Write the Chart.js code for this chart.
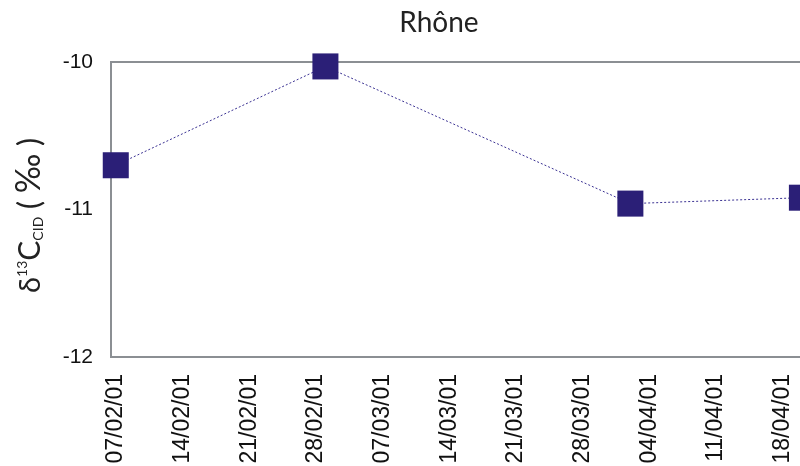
<!DOCTYPE html>
<html>
<head>
<meta charset="utf-8">
<script src="https://cdn.jsdelivr.net/npm/chart.js@4.4.1/dist/chart.umd.min.js"></script>
<style>
  body { margin: 0; background: #fff; }
</style>
</head>
<body>
<canvas id="rhone" width="800" height="466"></canvas>
<script>
// données
const sampleDates = ['07/02/01', '01/03/01', '02/04/01', '20/04/01'];
const d13C = [-10.70, -10.03, -10.96, -10.92];
const tickLabels = ['07/02/01', '14/02/01', '21/02/01', '28/02/01', '07/03/01', '14/03/01',
                    '21/03/01', '28/03/01', '04/04/01', '11/04/01', '18/04/01'];
const yTicks = [-12, -11, -10];

// jours depuis le 07/02/01
function dayOf(s) {
  const p = s.split('/');
  const t = Date.UTC(2000 + +p[2], +p[1] - 1, +p[0]);
  return Math.round((t - Date.UTC(2001, 1, 7)) / 86400000);
}
const tickDays = tickLabels.map(dayOf);
const points = sampleDates.map((d, i) => ({ x: dayOf(d), y: d13C[i] }));

const frame = {
  id: 'frame',
  beforeDatasetsDraw(chart) {
    const a = chart.chartArea, ctx = chart.ctx;
    ctx.save();
    ctx.strokeStyle = '#8b8f93';
    ctx.lineWidth = 2;
    ctx.strokeRect(a.left, a.top, a.right - a.left + 4, a.bottom - a.top);
    ctx.restore();
  }
};

const labels = {
  id: 'labels',
  afterDraw(chart) {
    const ctx = chart.ctx, a = chart.chartArea;
    ctx.save();
    ctx.fillStyle = '#222';
    ctx.font = '28px Lato';
    ctx.textAlign = 'center';
    ctx.textBaseline = 'alphabetic';
    ctx.fillText('Rhône', 439, 32);

    // titre de l'axe y : δ13C CID (‰)
    const parts = [
      { t: 'δ', size: 29, dy: 0 },
      { t: '13', size: 14, dy: -13 },
      { t: 'C', size: 30, dy: 0 },
      { t: 'CID', size: 14, dy: 3 },
      { t: ' ( ', size: 30, dy: 0 },
      { t: '‰', size: 34, dy: 0 },
      { t: ' )', size: 30, dy: 0 }
    ];
    let total = 0;
    parts.forEach(p => { ctx.font = p.size + 'px Lato'; p.w = ctx.measureText(p.t).width; total += p.w; });
    ctx.translate(40, (a.top + a.bottom) / 2 + 6);
    ctx.rotate(-Math.PI / 2);
    ctx.textAlign = 'left';
    let x = -total / 2;
    parts.forEach(p => {
      ctx.font = p.size + 'px Lato';
      ctx.fillText(p.t, x, p.dy);
      x += p.w;
    });
    ctx.restore();
  }
};

new Chart(document.getElementById('rhone'), {
  type: 'line',
  data: {
    datasets: [{
      data: points,
      borderColor: '#3a3192',
      borderWidth: 1,
      borderDash: [2, 2],
      pointStyle: 'rect',
      pointRadius: 18.4,
      pointBackgroundColor: '#2b1f77',
      pointBorderWidth: 0,
      clip: false
    }]
  },
  options: {
    responsive: false,
    animation: false,
    events: [],
    layout: { autoPadding: false, padding: { top: 62, left: 0, right: 0, bottom: 0 } },
    plugins: { legend: { display: false }, tooltip: { enabled: false } },
    scales: {
      x: {
        type: 'linear',
        min: -0.5,
        max: 71.8,
        grid: { display: false, drawTicks: false },
        border: { display: false },
        afterBuildTicks: s => { s.ticks = tickDays.map(v => ({ value: v })); },
        afterFit: s => { s.height = 109; s.paddingLeft = 0; s.paddingRight = 0; },
        ticks: {
          autoSkip: false,
          minRotation: 90,
          maxRotation: 90,
          padding: 17,
          color: '#111',
          font: { family: 'Liberation Sans', size: 23 },
          callback: v => tickLabels[tickDays.indexOf(v)]
        }
      },
      y: {
        min: -12,
        max: -10,
        grid: { display: false, drawTicks: false },
        border: { display: false },
        afterBuildTicks: s => { s.ticks = yTicks.map(v => ({ value: v })); },
        afterFit: s => { s.width = 111; },
        ticks: {
          padding: 18,
          color: '#111',
          font: { family: 'Liberation Sans', size: 21 }
        }
      }
    }
  },
  plugins: [frame, labels]
});
</script>
</body>
</html>
